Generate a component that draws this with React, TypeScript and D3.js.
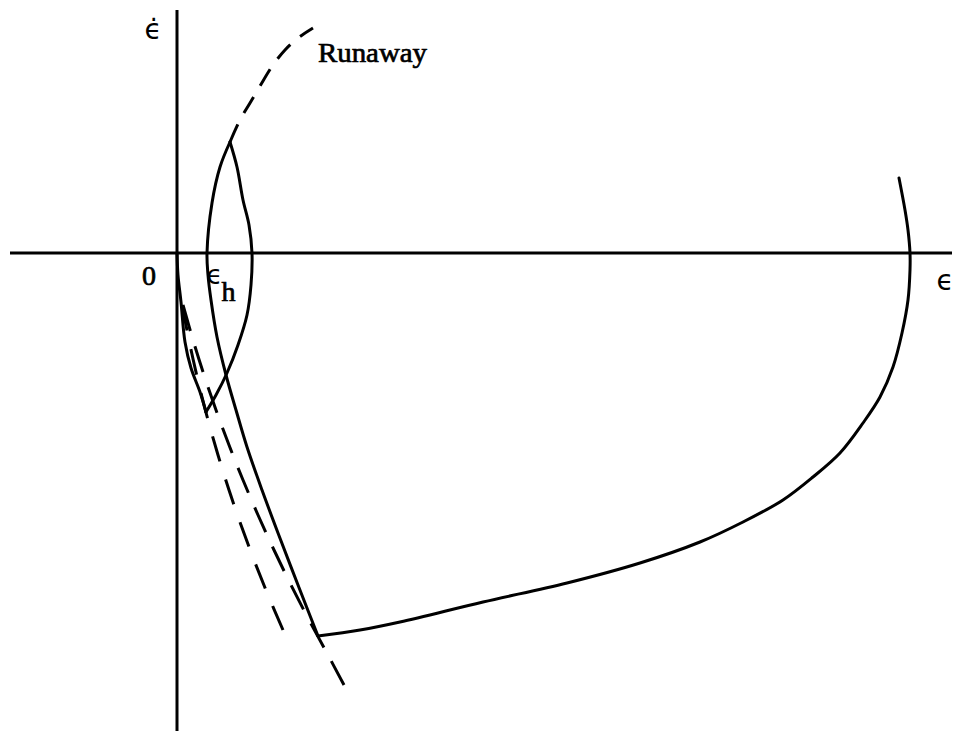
import React from "react";
import * as d3 from "d3";

const W = 956;
const H = 731;

// Phase plane: strain ε along x, strain rate ε̇ along y
const epsExtent: [number, number] = [-1.67, 7.75];
const epsDotExtent: [number, number] = [2.43, -4.78];

type Pt = [number, number];

// Solid trajectory, split at its sharp corners
const loadingBranch: Pt[] = [
  [0, 0], [0.01, -0.22], [0.04, -0.49], [0.08, -0.89], [0.14, -1.15], [0.23, -1.39], [0.29, -1.59],
];
const reboundBranch: Pt[] = [
  [0.29, -1.59], [0.39, -1.42], [0.5, -1.2], [0.61, -0.92], [0.7, -0.62], [0.74, -0.32],
  [0.75, 0], [0.72, 0.28], [0.66, 0.53], [0.6, 0.86], [0.53, 1.11],
];
const returnBranch: Pt[] = [
  [0.53, 1.11], [0.43, 0.86], [0.35, 0.5], [0.3, 0], [0.31, -0.22], [0.34, -0.47], [0.4, -0.84],
  [0.49, -1.22], [0.59, -1.57], [0.7, -1.94], [0.85, -2.37], [1.01, -2.8], [1.21, -3.32], [1.41, -3.83],
];
const sweepBranch: Pt[] = [
  [1.41, -3.83], [1.83, -3.77], [2.23, -3.69], [3.06, -3.49], [3.9, -3.3], [4.63, -3.1],
  [5.23, -2.89], [5.66, -2.69], [6.06, -2.47], [6.36, -2.24], [6.63, -2.0], [6.86, -1.7],
  [7.03, -1.44], [7.16, -1.14], [7.25, -0.8], [7.31, -0.47], [7.33, -0.17], [7.33, 0],
  [7.31, 0.23], [7.28, 0.43], [7.22, 0.75],
];

// Dashed bounding curves
const innerBound: Pt[] = [
  [0.05, -0.52], [0.13, -0.92], [0.22, -1.32], [0.31, -1.67], [0.41, -2.02], [0.52, -2.37],
  [0.64, -2.72], [0.77, -3.07], [0.91, -3.42], [1.06, -3.77],
];
const outerBound: Pt[] = [
  [0.06, -0.52], [0.16, -0.87], [0.27, -1.22], [0.39, -1.57], [0.52, -1.92], [0.66, -2.27],
  [0.81, -2.62], [0.97, -2.97], [1.14, -3.32], [1.32, -3.67], [1.51, -4.02], [1.67, -4.32],
];
const runawayBranch: Pt[] = [
  [0.53, 1.11], [0.63, 1.33], [0.73, 1.5], [0.83, 1.67], [0.96, 1.88], [1.08, 2.03], [1.21, 2.15], [1.36, 2.25],
];

const runawayLabel = "Runaway";
const originLabel = "0";
const epsSymbol = "\u03F5";
const epsRateSymbol = "\u03F5\u0307";
const hysteresisSub = "h";

export default function App() {
  const x = d3.scaleLinear().domain(epsExtent).range([10, 952]);
  const y = d3.scaleLinear().domain(epsDotExtent).range([10, 731]);

  const line = d3
    .line<Pt>()
    .x((d) => x(d[0]))
    .y((d) => y(d[1]))
    .curve(d3.curveCatmullRom.alpha(0.5));

  const x0 = x(0);
  const y0 = y(0);
  const typeFace = "'Liberation Serif', 'DejaVu Serif', serif";
  const greek = "'DejaVu Sans', sans-serif";

  const solid = {
    fill: "none",
    stroke: "#000",
    strokeWidth: 3,
    strokeLinejoin: "round" as const,
    strokeLinecap: "round" as const,
  };
  const inked = { fill: "#000", stroke: "#000", strokeWidth: 0.7 };

  return (
    <svg
      width={W}
      height={H}
      viewBox={`0 0 ${W} ${H}`}
      style={{ position: "absolute", left: 0, top: 0, background: "#fff" }}
    >
      {/* axes */}
      <line x1={x(epsExtent[0])} x2={x(epsExtent[1])} y1={y0} y2={y0} stroke="#000" strokeWidth={3} />
      <line x1={x0} x2={x0} y1={y(epsDotExtent[0])} y2={y(epsDotExtent[1])} stroke="#000" strokeWidth={3} />

      {/* solid trajectory */}
      <path d={line(loadingBranch) ?? ""} {...solid} />
      <path d={line(reboundBranch) ?? ""} {...solid} />
      <path d={line(returnBranch) ?? ""} {...solid} />
      <path d={line(sweepBranch) ?? ""} {...solid} />

      {/* dashed curves */}
      <path d={line(innerBound) ?? ""} fill="none" stroke="#000" strokeWidth={3} strokeDasharray="26 19" />
      <path d={line(outerBound) ?? ""} fill="none" stroke="#000" strokeWidth={3} strokeDasharray="27 16" />
      <path d={line(runawayBranch) ?? ""} fill="none" stroke="#000" strokeWidth={3} strokeDasharray="19 13" />

      {/* labels */}
      <text x={318} y={62} fontFamily={typeFace} fontSize={28} textLength={109} lengthAdjust="spacingAndGlyphs" {...inked}>
        {runawayLabel}
      </text>
      <text x={x0 - 28} y={y0 + 32} fontFamily={typeFace} fontSize={28} textAnchor="middle" {...inked}>
        {originLabel}
      </text>
      <text x={945} y={y0 + 37} fontFamily={greek} fontSize={28} textAnchor="middle" fill="#000">
        {epsSymbol}
      </text>
      <text x={x0 + 44} y={y0 + 31} fontFamily={greek} fontSize={26} textAnchor="middle" fill="#000">
        {epsSymbol}
        <tspan dx={-1} dy={17} fontFamily={typeFace} fontSize={28} {...inked}>
          {hysteresisSub}
        </tspan>
      </text>
      <text x={153} y={39} fontFamily={greek} fontSize={28} textAnchor="middle" fill="#000">
        {epsRateSymbol}
      </text>
    </svg>
  );
}
